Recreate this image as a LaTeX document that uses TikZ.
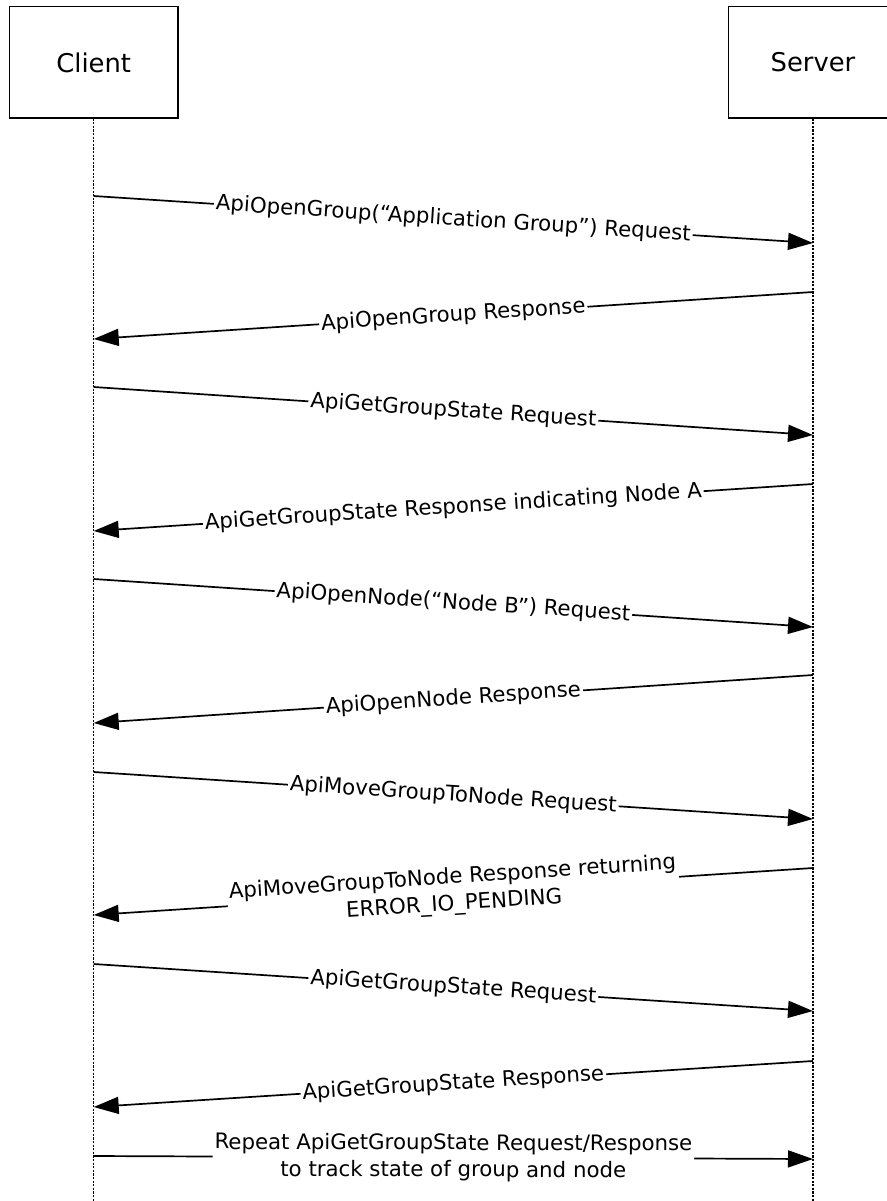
\documentclass[tikz,border=0pt]{standalone}
\usepackage{fontspec}
\setmainfont{DejaVu Sans}
\usetikzlibrary{arrows.meta}

\begin{document}
\begin{tikzpicture}[x=0.5pt, y=-0.5pt,
  party/.style={draw, line width=0.65pt, minimum width=84.3pt, minimum height=55.6pt,
    inner sep=0pt, font={\fontsize{12.9}{15}\selectfont}},
  lifeline/.style={line width=0.6pt, dash pattern=on 1.1pt off 0.7pt},
  msg/.style={line width=0.85pt, -{Triangle[length=12.5pt, width=8.5pt]}},
  msglabel/.style={midway, sloped, fill=white, inner sep=1pt, align=center,
    font={\fontsize{10.65}{13.4}\selectfont}}]

\clip (0,0) rectangle (887,1201);

\node [party] (client) at (93.7, 62.4) {Client};
\node [party] (server) at (813, 62.4) {Server};

\coordinate (client-end) at (client.south |- 0,1201);
\coordinate (server-end) at (server.south |- 0,1201);

\draw [lifeline] (client.south) -- (client-end);
\draw [lifeline] (server.south) -- (server-end);

% points on the lifelines
\coordinate (c1) at (client.south |- 0,196);   \coordinate (s1) at (server.south |- 0,243);
\coordinate (s2) at (server.south |- 0,292);   \coordinate (c2) at (client.south |- 0,339);
\coordinate (c3) at (client.south |- 0,387);   \coordinate (s3) at (server.south |- 0,435);
\coordinate (s4) at (server.south |- 0,484);   \coordinate (c4) at (client.south |- 0,531);
\coordinate (c5) at (client.south |- 0,579);   \coordinate (s5) at (server.south |- 0,627);
\coordinate (s6) at (server.south |- 0,675);   \coordinate (c6) at (client.south |- 0,723);
\coordinate (c7) at (client.south |- 0,772);   \coordinate (s7) at (server.south |- 0,819);
\coordinate (s8) at (server.south |- 0,868);   \coordinate (c8) at (client.south |- 0,915);
\coordinate (c9) at (client.south |- 0,964);   \coordinate (s9) at (server.south |- 0,1011);
\coordinate (s10) at (server.south |- 0,1061); \coordinate (c10) at (client.south |- 0,1107);
\coordinate (c11) at (client.south |- 0,1156); \coordinate (s11) at (server.south |- 0,1159);

\draw [msg] (c1) -- node [msglabel] {ApiOpenGroup(“Application Group”) Request} (s1);
\draw [msg] (s2) -- node [msglabel] {ApiOpenGroup Response} (c2);
\draw [msg] (c3) -- node [msglabel] {ApiGetGroupState Request} (s3);
\draw [msg] (s4) -- node [msglabel] {ApiGetGroupState Response indicating Node A} (c4);
\draw [msg] (c5) -- node [msglabel] {ApiOpenNode(“Node B”) Request} (s5);
\draw [msg] (s6) -- node [msglabel] {ApiOpenNode Response} (c6);
\draw [msg] (c7) -- node [msglabel] {ApiMoveGroupToNode Request} (s7);
\draw [msg] (s8) -- node [msglabel] {ApiMoveGroupToNode Response returning\\ERROR\_IO\_PENDING} (c8);
\draw [msg] (c9) -- node [msglabel] {ApiGetGroupState Request} (s9);
\draw [msg] (s10) -- node [msglabel] {ApiGetGroupState Response} (c10);
\draw [msg] (c11) -- node [msglabel] {Repeat ApiGetGroupState Request/Response\\to track state of group and node} (s11);

\end{tikzpicture}
\end{document}
